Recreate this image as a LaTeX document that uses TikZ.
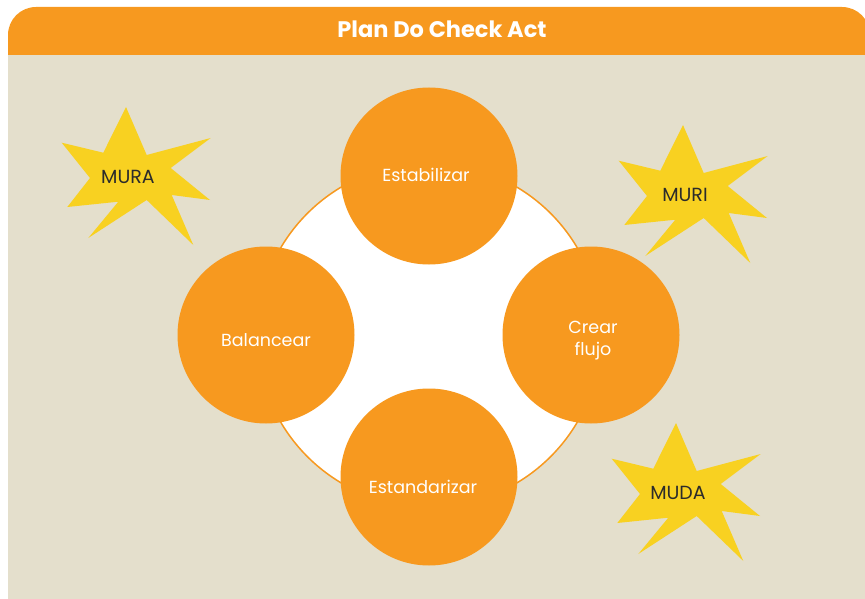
\documentclass[tikz,border=0pt]{standalone}
\usepackage{fontspec}
\setmainfont{Poppins}
\definecolor{pdcaorange}{HTML}{F7991F}
\definecolor{panelbeige}{HTML}{E4DFCC}
\definecolor{burstyellow}{HTML}{F8D121}
\definecolor{inkgray}{HTML}{2B2B2B}
\begin{document}
\begin{tikzpicture}[x=1pt,y=-1pt,
  stage/.style={circle, fill=pdcaorange, minimum size=177pt, inner sep=0pt},
  stagetext/.style={text=white, align=center, inner sep=0pt, font=\fontsize{17.5}{22}\selectfont},
  burstlabel/.style={text=inkgray, inner sep=0pt, font=\fontsize{19}{22}\selectfont},
  titletext/.style={text=white, inner sep=0pt, font=\bfseries\fontsize{22.5}{26}\selectfont},
  burst/.pic={\fill[burstyellow] (-2,-70) -- (18.7,-22) -- (82.7,-39) -- (42.7,-9)
      -- (82,23) -- (43.7,18) -- (65.3,68) -- (18.7,23) -- (-39.7,61)
      -- (-9.7,24.7) -- (-60.7,30) -- (-38,1) -- (-66.3,-34.3) -- (-24.7,-24.3) -- cycle;}
]
\useasboundingbox (0,0) rectangle (865,599);
% panel with rounded title band
\fill[pdcaorange, rounded corners=28pt] (8,90) rectangle (870,7);
\fill[panelbeige] (8,55) rectangle (870,610);
\node[titletext] (title) at (442,29) {Plan Do Check Act};

% wastes around the cycle
\coordinate (muraC) at (128,177);
\coordinate (muriC) at (685,195);
\coordinate (mudaC) at (678,493);
\pic at (muraC) {burst};
\pic at (muriC) {burst};
\pic at (mudaC) {burst};
\node[burstlabel] (mura) at (muraC) {MURA};
\node[burstlabel] (muri) at (muriC) {MURI};
\node[burstlabel] (muda) at (mudaC) {MUDA};

% cycle ring and its four stages
\node[circle, draw=pdcaorange, line width=1.5pt, fill=white, minimum size=344pt, inner sep=0pt] (ring) at (429,335) {};
\node[stage] (estab) at (429,176) {};
\node[stage] (balan) at (266,335) {};
\node[stage] (crear) at (591,335) {};
\node[stage] (estand) at (429,477) {};
\node[stagetext] (estabT) at ([xshift=-3pt,yshift=1pt]estab.center) {Estabilizar};
\node[stagetext] (balanT) at ([yshift=-5pt]balan.center) {Balancear};
\node[stagetext] (crearT) at ([xshift=2pt,yshift=-6pt]crear.center) {Crear\\flujo};
\node[stagetext] (estandT) at ([xshift=-6pt,yshift=-10pt]estand.center) {Estandarizar};
\end{tikzpicture}
\end{document}
